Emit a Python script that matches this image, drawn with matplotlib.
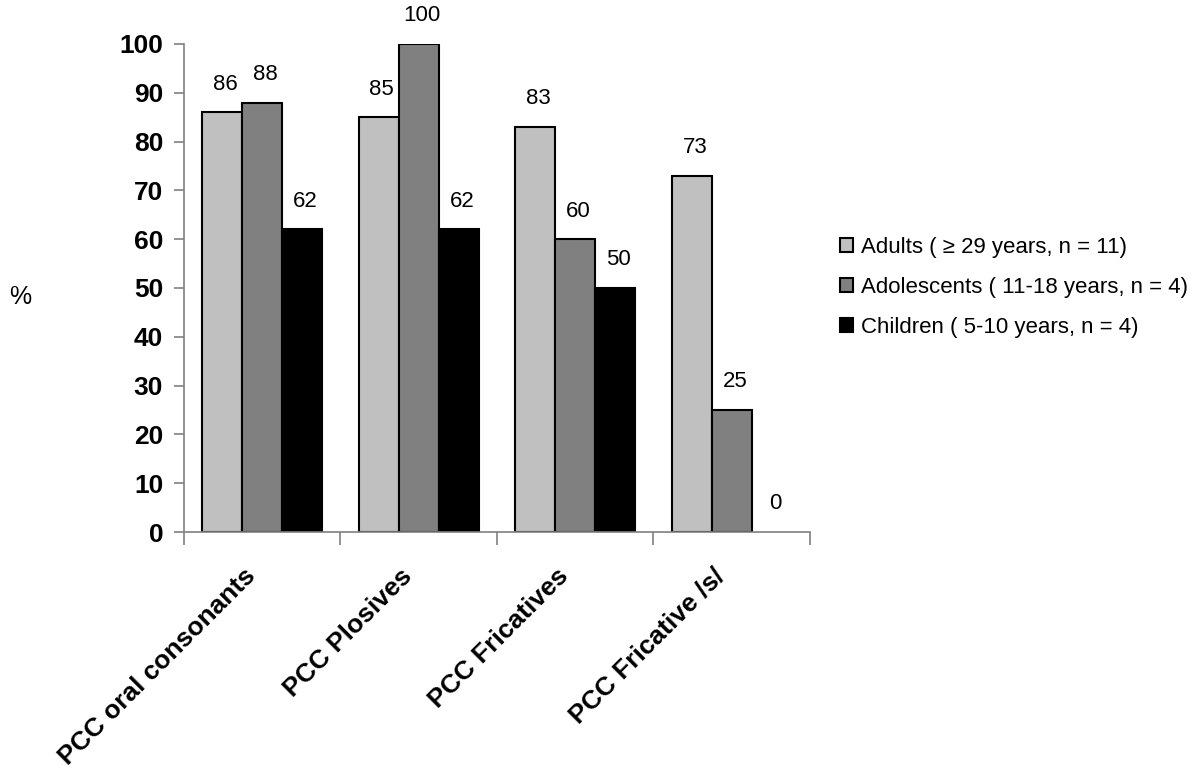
import numpy as np
import matplotlib
matplotlib.use('agg')
import matplotlib.pyplot as plt

categories = ["PCC oral consonants", "PCC Plosives", "PCC Fricatives", "PCC Fricative /s/"]
series_names = ["Adults ( \u2265 29 years, n = 11)",
                "Adolescents ( 11-18 years, n = 4)",
                "Children ( 5-10 years, n = 4)"]
adults = [86, 85, 83, 73]
adolescents = [88, 100, 60, 25]
children = [62, 62, 50, 0]
colors = ["#c0c0c0", "#808080", "#000000"]

plt.rcParams['font.family'] = ['Liberation Sans', 'DejaVu Sans']

fig = plt.figure(figsize=(12, 7.77), dpi=100)
ax = fig.add_axes([0.1533, 0.3153, 0.5217, 0.6281])

x = np.arange(len(categories))
w = 0.256
for i, (vals, name, col) in enumerate(zip([adults, adolescents, children], series_names, colors)):
    pos = x + (i - 1) * w
    lws = [1.5 if v > 0 else 0 for v in vals]
    ax.bar(pos, vals, w, color=col, edgecolor='black', linewidth=lws, label=name)
    for p, v in zip(pos, vals):
        ax.text(p + 0.02, v + 3.6, str(v), ha='center', va='bottom', fontsize=16)

ax.set_xlim(-0.5, len(categories) - 0.5)
ax.set_ylim(0, 100)
ax.set_yticks(np.arange(0, 101, 10))
ax.set_yticklabels([str(t) for t in range(0, 101, 10)], fontsize=19, fontweight='bold')
ax.set_xticks(np.arange(-0.5, len(categories), 1.0))
ax.set_xticklabels([])
ax.tick_params(axis='x', length=9, color='#808080', width=1.2)
ax.tick_params(axis='y', length=7, color='#808080', width=1.2, pad=8)
for s in ['top', 'right']:
    ax.spines[s].set_visible(False)
ax.spines['left'].set_color('#808080')
ax.spines['bottom'].set_color('#808080')
ax.spines['left'].set_linewidth(1.2)
ax.spines['bottom'].set_linewidth(1.2)

for xi, c in zip(x, categories):
    ax.text(xi - 0.12, -6.5, c, rotation=45, ha='right', va='top', rotation_mode='anchor',
            fontsize=19, fontweight='bold', clip_on=False)

fig.text(0.008, 0.618, "%", fontsize=18, ha='left', va='center')

fig.legend(loc='center left', bbox_to_anchor=(0.7, 0.63), frameon=False, fontsize=16,
           handlelength=0.6, handleheight=0.6, handletextpad=0.35, labelspacing=0.85,
           borderpad=0, borderaxespad=0)

fig.savefig("out.png", dpi=100)
